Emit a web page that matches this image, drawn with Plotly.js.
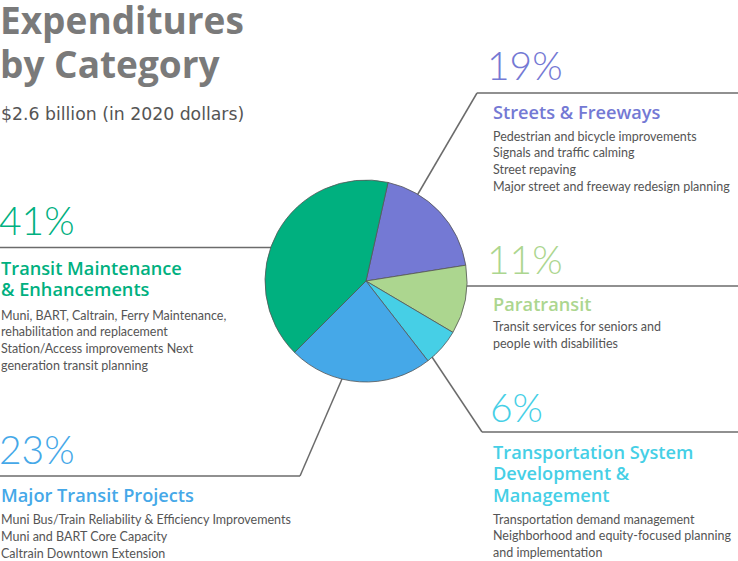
<!DOCTYPE html>
<html>
<head>
<meta charset="utf-8">
<script src="https://cdn.plot.ly/plotly-3.0.1.min.js"></script>
<style>html,body{margin:0;padding:0;background:#fff;}#chart{width:738px;height:561px;}</style>
</head>
<body>
<div id="chart"></div>
<script>
// ---- data ----
const categories = ["Streets & Freeways", "Paratransit", "Transportation System Development & Management", "Major Transit Projects", "Transit Maintenance & Enhancements"];
const values = [19, 11, 6, 23, 41];
const sliceColors = ["#7479d4", "#acd68f", "#46cfe6", "#45a8e8", "#00b07f"];
const percentLabels = ["19%", "11%", "6%", "23%", "41%"];
const headingLines = [
  ["Streets & Freeways"],
  ["Paratransit"],
  ["Transportation System", "Development &", "Management"],
  ["Major Transit Projects"],
  ["Transit Maintenance", "& Enhancements"]
];
const descLines = [
  ["Pedestrian and bicycle improvements", "Signals and traffic calming", "Street repaving", "Major street and freeway redesign planning"],
  ["Transit services for seniors and", "people with disabilities"],
  ["Transportation demand management", "Neighborhood and equity-focused planning", "and implementation"],
  ["Muni Bus/Train Reliability & Efficiency Improvements", "Muni and BART Core Capacity", "Caltrain Downtown Extension"],
  ["Muni, BART, Caltrain, Ferry Maintenance,", "rehabilitation and replacement", "Station/Access improvements Next", "generation transit planning"]
];
const titleLines = ["Expenditures", "by Category"];
const subtitle = "$2.6 billion (in 2020 dollars)";

// ---- layout helpers (pixel -> paper) ----
const W = 738, H = 561;
const px = x => x / W;
const py = y => 1 - y / H;
const LATO = "Lato, 'Open Sans', sans-serif";
const OPEN = "'Open Sans', Lato, sans-serif";
const DEJA = "'DejaVu Sans', 'Open Sans', sans-serif";

// block positions (layout only)
const blockX = [493, 493, 493, 1, 1];
const pctX = [487, 487, 490, -1, -1];
const pctY = [65.5, 259, 407, 449, 220];
const headY = [[112], [303.5], [452, 473, 494.5], [495], [267.5, 289]];
const descY0 = [136, 326.7, 519, 519.7, 315];
const descStep = 16.7;
const titleY = [20, 64];

const base = {xref: "paper", yref: "paper", xanchor: "left", yanchor: "middle", showarrow: false, borderpad: 0, borderwidth: 0};
const annotations = [];
titleLines.forEach((t, i) => {
  annotations.push(Object.assign({}, base, {text: t, x: px(0), y: py(titleY[i]),
    font: {family: OPEN, size: 37, color: "#7a7a7a", weight: 700}}));
});
annotations.push(Object.assign({}, base, {text: subtitle, x: px(1), y: py(113.5),
  font: {family: DEJA, size: 17.3, color: "#555555"}}));

categories.forEach((c, i) => {
  annotations.push(Object.assign({}, base, {text: percentLabels[i], x: px(pctX[i]), y: py(pctY[i]),
    font: {family: LATO, size: 39, color: sliceColors[i], weight: 300}}));
  headingLines[i].forEach((t, j) => {
    annotations.push(Object.assign({}, base, {text: t, x: px(blockX[i]), y: py(headY[i][j]),
      font: {family: OPEN, size: 18.2, color: sliceColors[i], weight: 600}}));
  });
  descLines[i].forEach((t, j) => {
    annotations.push(Object.assign({}, base, {text: t, x: px(blockX[i]), y: py(descY0[i] + j * descStep),
      font: {family: LATO, size: 12.5, color: "#555555"}}));
  });
});

// leader lines
const lineStyle = {color: "#6b6b6b", width: 1.5};
const segs = [
  [[415, 199], [477, 93]], [[477, 93], [738, 93]],
  [[0, 247.5], [275, 247.5]],
  [[460, 286], [738, 286]],
  [[428, 351], [482, 432]], [[482, 432], [738, 432]],
  [[345, 372], [300, 476]], [[300, 476], [0, 476]]
];
const shapes = segs.map(s => ({type: "line", xref: "paper", yref: "paper", layer: "below",
  x0: px(s[0][0]), y0: py(s[0][1]), x1: px(s[1][0]), y1: py(s[1][1]), line: lineStyle}));

const trace = {
  type: "pie",
  labels: categories,
  values: values,
  sort: false,
  direction: "clockwise",
  rotation: 12.6,
  marker: {colors: sliceColors, line: {color: "#555555", width: 0.8}},
  textinfo: "none",
  hoverinfo: "label+percent",
  showlegend: false,
  domain: {x: [px(265), px(467)], y: [py(382), py(180)]}
};

Plotly.newPlot("chart", [trace], {
  width: W, height: H,
  margin: {l: 0, r: 0, t: 0, b: 0},
  paper_bgcolor: "#ffffff",
  showlegend: false,
  annotations: annotations,
  shapes: shapes
}, {displayModeBar: false, staticPlot: true});
</script>
</body>
</html>
